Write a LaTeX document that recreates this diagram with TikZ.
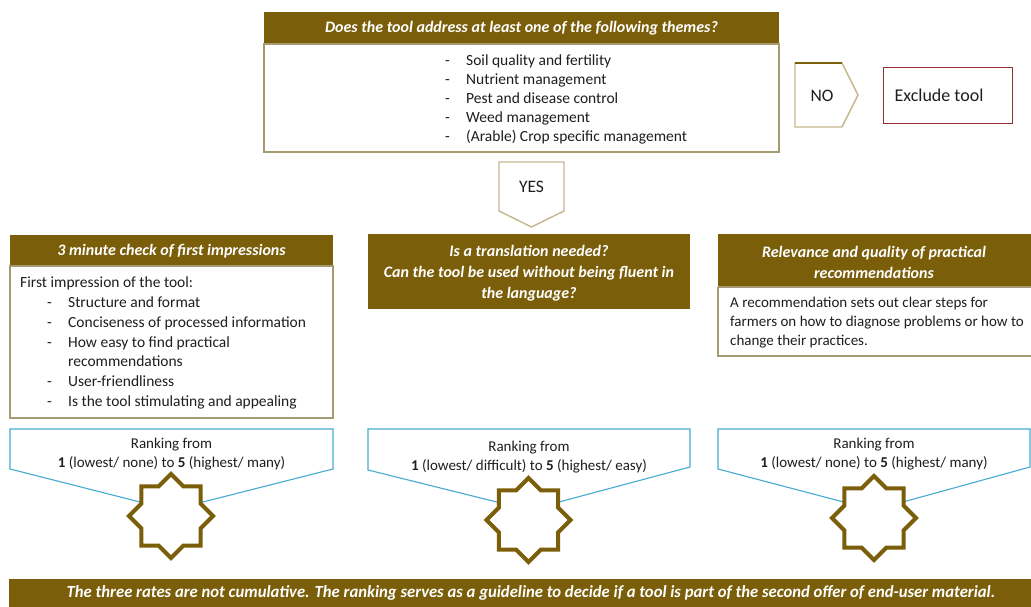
\documentclass[tikz,border=0pt]{standalone}
\usepackage{fontspec}
\setmainfont{Carlito}
\usetikzlibrary{shapes.geometric}
\definecolor{hdrbrown}{RGB}{122,94,10}
\definecolor{boxgray}{RGB}{165,155,115}
\definecolor{arrowtan}{RGB}{196,182,140}
\definecolor{calloutblue}{RGB}{70,170,210}
\definecolor{exclred}{RGB}{150,45,45}
\definecolor{txt}{RGB}{30,30,30}
\newcommand\dashitem{\makebox[21pt][l]{-}}
\begin{document}
\begin{tikzpicture}[x=1pt,y=-1pt,
  hdr/.style={fill=hdrbrown, draw=none, inner sep=0, anchor=north west},
  hdrtext/.style={text=white, font=\fontsize{16}{21}\selectfont\bfseries\itshape, align=center, inner sep=0},
  bodytext/.style={text=txt, font=\fontsize{15.5}{19}\selectfont, align=left, inner sep=0, anchor=north west},
  ranktext/.style={text=txt, font=\fontsize{15}{19.5}\selectfont, align=center, inner sep=0},
  boxline/.style={draw=boxgray, line width=1.2pt},
  callout/.style={draw=calloutblue, line width=1.1pt, fill=white},
  rankstar/.style={star, star points=8, star point ratio=1.307, minimum size=84, draw=hdrbrown, line width=4pt, line join=miter, fill=white, inner sep=0},
  chevron/.style={draw=arrowtan, line width=1.4pt, fill=white},
]
\clip (0,0) rectangle (1031,607);
\fill[white] (0,0) rectangle (1031,607);

% top question
\node[hdr, minimum width=515, minimum height=32] (h0) at (264,12) {};
\node[hdrtext] (h0t) at (521.5,28) {Does the tool address at least one of the following themes?};
\draw[boxline] (264,44) rectangle (779,152);
\node[bodytext] (l0) at (445,52.2) {\strut\dashitem Soil quality and fertility\\\strut\dashitem Nutrient management\\\strut\dashitem Pest and disease control\\\strut\dashitem Weed management\\\strut\dashitem (Arable) Crop specific management};

% NO arrow and exclude box
\draw[chevron] (795,63) -- (842,63) -- (858,95) -- (842,127) -- (795,127) -- cycle;
\draw[hdrbrown, line width=1.4pt] (795,63) -- (842,63);
\node[text=txt, font=\fontsize{17.5}{19}\selectfont, inner sep=0] (no) at (822,96) {NO};
\node[draw=exclred, line width=1.1pt, minimum width=129, minimum height=56, anchor=north west, inner sep=0] (excl) at (883,67) {};
\node[text=txt, font=\fontsize{18}{19}\selectfont, inner sep=0] (exclt) at (939,95) {Exclude tool};

% YES arrow
\draw[chevron] (499,162) -- (564,162) -- (564,211) -- (531.5,227) -- (499,211) -- cycle;
\node[text=txt, font=\fontsize{17.5}{19}\selectfont, inner sep=0] (yes) at (531.5,187) {YES};

% column 1
\node[hdr, minimum width=323, minimum height=31] (h1) at (10,235) {};
\node[hdrtext] (h1t) at (171.5,251) {3 minute check of first impressions};
\draw[boxline] (10,266) rectangle (333,418);
\node[bodytext, font=\fontsize{15.5}{19.8}\selectfont] (l1) at (20,273.6) {\strut First impression of the tool:\\\strut\hspace{27pt}\dashitem Structure and format\\\strut\hspace{27pt}\dashitem Conciseness of processed information\\\strut\hspace{27pt}\dashitem How easy to find practical\\\strut\hspace{48pt}recommendations\\\strut\hspace{27pt}\dashitem User-friendliness\\\strut\hspace{27pt}\dashitem Is the tool stimulating and appealing};

% column 2
\node[hdr, minimum width=322, minimum height=75] (h2) at (368,234) {};
\node[hdrtext] (h2t) at (529,273) {Is a translation needed?\\Can the tool be used without being fluent in\\the language?};

% column 3
\node[hdr, minimum width=320, minimum height=53] (h3) at (718,234) {};
\node[hdrtext] (h3t) at (874,262.5) {Relevance and quality of practical\\recommendations};
\draw[boxline] (718,287) -- (1040,287) (1040,356) -- (718,356) -- (718,287);
\node[bodytext, font=\fontsize{15}{19}\selectfont] (l3) at (730,294.2) {\strut A recommendation sets out clear steps for\\\strut farmers on how to diagnose problems or how to\\\strut change their practices.};

% ranking callouts
\draw[callout] (10,429) -- (333,429) -- (333,469) -- (171.5,510) -- (10,469) -- cycle;
\draw[callout] (368,429) -- (690,429) -- (690,467) -- (529,510) -- (368,470) -- cycle;
\draw[callout] (718,429) -- (1030,429) -- (1030,467) -- (874,510) -- (718,469) -- cycle;
\node[ranktext] (r1) at (171.5,454) {Ranking from\\\textbf{1} (lowest/ none) to \textbf{5} (highest/ many)};
\node[ranktext] (r2) at (529,457) {Ranking from\\\textbf{1} (lowest/ difficult) to \textbf{5} (highest/ easy)};
\node[ranktext] (r3) at (874,454) {Ranking from\\\textbf{1} (lowest/ none) to \textbf{5} (highest/ many)};

% stars
\node[rankstar] (s1) at (171,516) {};
\node[rankstar] (s2) at (528.5,520) {};
\node[rankstar] (s3) at (874,518) {};

% bottom banner
\node[hdr, minimum width=1030, minimum height=30] (ban) at (9,579) {};
\node[text=white, font=\fontsize{17}{18}\selectfont\bfseries\itshape, inner sep=0] (bant) at (531,593) {\scalebox{0.98}[1]{The three rates are not cumulative. The ranking serves as a guideline to decide if a tool is part of the second offer of end-user material.}};
\end{tikzpicture}
\end{document}
